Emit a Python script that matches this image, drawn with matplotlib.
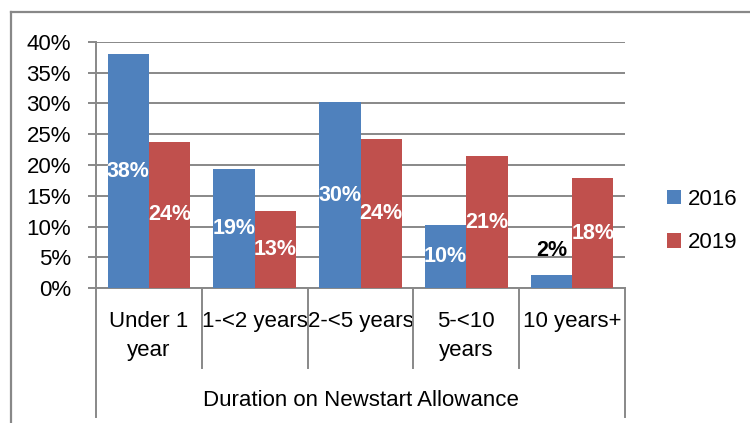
import matplotlib
matplotlib.use("Agg")
import matplotlib.pyplot as plt
from matplotlib.lines import Line2D
import matplotlib.transforms as mtransforms
import numpy as np

plt.rcParams['font.family'] = ['Liberation Sans', 'DejaVu Sans']

categories = ["Under 1\nyear", "1-<2 years", "2-<5 years", "5-<10\nyears", "10 years+"]
series_names = ["2016", "2019"]
values_2016 = [38.0, 19.4, 30.2, 10.2, 2.1]
values_2019 = [23.8, 12.5, 24.2, 21.5, 17.9]
labels_2016 = ["38%", "19%", "30%", "10%", "2%"]
labels_2019 = ["24%", "13%", "24%", "21%", "18%"]
ytick_values = [0, 5, 10, 15, 20, 25, 30, 35, 40]
ytick_labels = ["0%", "5%", "10%", "15%", "20%", "25%", "30%", "35%", "40%"]
axis_title = "Duration on Newstart Allowance"

BLUE = "#4F81BD"
RED = "#C0504D"
GRID = "#888888"

W, H = 750, 423
fig = plt.figure(figsize=(7.5, 4.23), dpi=100)
ax = fig.add_axes([96 / W, 1 - 288.3 / H, (625 - 96) / W, (288.3 - 41.7) / H])

x = np.arange(len(categories))
bw = 0.39
b1 = ax.bar(x - bw / 2, values_2016, bw, color=BLUE, label=series_names[0], zorder=3)
b2 = ax.bar(x + bw / 2, values_2019, bw, color=RED, label=series_names[1], zorder=3)

ax.set_xlim(-0.5, len(categories) - 0.5)
ax.set_ylim(0, 40)
ax.set_yticks(ytick_values)
ax.set_yticklabels(ytick_labels, fontsize=16)
ax.tick_params(axis='y', length=6, width=1.4, color=GRID, pad=12)
ax.yaxis.grid(True, color=GRID, linewidth=1.4, zorder=0)
ax.set_axisbelow(True)

ax.set_xticks(x)
ax.set_xticklabels(categories, fontsize=16, linespacing=1.55, va='top')
ax.tick_params(axis='x', length=0, pad=16)

for s in ['top', 'right']:
    ax.spines[s].set_visible(False)
for s in ['left', 'bottom']:
    ax.spines[s].set_color(GRID)
    ax.spines[s].set_linewidth(1.4)

# category separators and outer lines
trans = mtransforms.blended_transform_factory(ax.transData, ax.transAxes)
for b in np.arange(-0.5, len(categories), 1.0):
    if b in (-0.5, len(categories) - 0.5):
        y0 = -(417 - 288.3) / (288.3 - 41.7)
    else:
        y0 = -(368 - 288.3) / (288.3 - 41.7)
    ax.add_line(Line2D([b, b], [0, y0], transform=trans, color=GRID,
                       linewidth=1.4, clip_on=False))

ax.text(0.5, -(400 - 288.3) / (288.3 - 41.7), axis_title, transform=ax.transAxes,
        ha='center', va='center', fontsize=16)

# data labels
for rect, lab, v in zip(b1, labels_2016, values_2016):
    cx = rect.get_x() + rect.get_width() / 2
    if v < 5:
        ax.annotate(lab, (cx, v), xytext=(0, 18), textcoords='offset points',
                    ha='center', va='center', fontsize=15.5, fontweight='bold',
                    color='black', zorder=5)
    else:
        ax.text(cx, v / 2, lab, ha='center', va='center', fontsize=15.5,
                fontweight='bold', color='white', zorder=5)
for rect, lab, v in zip(b2, labels_2019, values_2019):
    cx = rect.get_x() + rect.get_width() / 2
    ax.text(cx, v / 2, lab, ha='center', va='center', fontsize=15.5,
            fontweight='bold', color='white', zorder=5)

# legend
fig.legend(handles=[b1, b2], labels=series_names, loc='center left',
           bbox_to_anchor=(667 / W, 1 - 221 / H), frameon=False, fontsize=16,
           handlelength=0.63, handleheight=0.63, handletextpad=0.3,
           labelspacing=1.0, borderpad=0, borderaxespad=0)

# outer chart frame (cropped)
fig.add_artist(Line2D([11 / W, 11 / W], [1 - 12 / H, -0.05], transform=fig.transFigure,
                      color=GRID, linewidth=1.6))
fig.add_artist(Line2D([11 / W, 1.05], [1 - 12 / H, 1 - 12 / H], transform=fig.transFigure,
                      color=GRID, linewidth=1.6))

fig.savefig("out.png", dpi=100)
